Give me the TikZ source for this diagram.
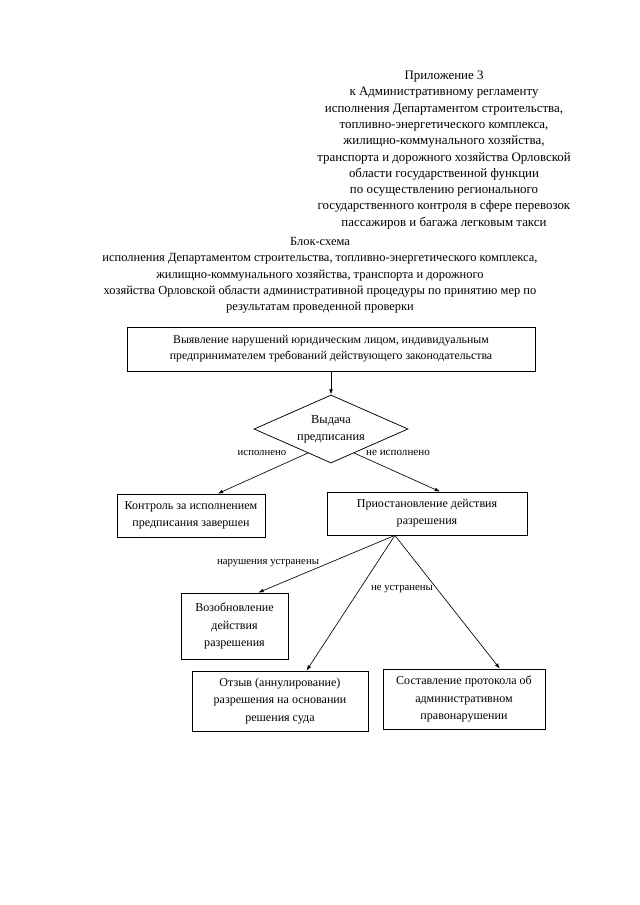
\documentclass[tikz,border=0pt]{standalone}
\usepackage{fontspec}
\setmainfont{Liberation Serif}
\usetikzlibrary{shapes.geometric,arrows.meta,calc}
\begin{document}
\begin{tikzpicture}[x=0.93pt,y=-0.93pt,
  txt/.style={font=\fontsize{12}{15.16}\selectfont, align=center, inner sep=0pt},
  box/.style={draw, line width=0.7pt, align=center, font=\fontsize{11.2}{16}\selectfont, inner sep=2pt},
  dia/.style={draw, line width=0.7pt, shape=diamond, aspect=2.26, inner sep=0pt,
    minimum width={154*0.93pt}, minimum height={68*0.93pt}, align=center, font=\fontsize{11.5}{16}\selectfont},
  lbl/.style={font=\fontsize{10}{12}\selectfont, inner sep=0pt},
  arr/.style={-{Latex[length=5pt,width=3.5pt]}, line width=0.6pt}]
\useasboundingbox (0,0) rectangle (640,905);
\fill[white] (0,0) rectangle (640,905);

\node[txt] (hdr) at (444,150) {Приложение 3\\к Административному регламенту\\исполнения Департаментом строительства,\\топливно-энергетического комплекса,\\жилищно-коммунального хозяйства,\\транспорта и дорожного хозяйства Орловской\\области государственной функции\\по осуществлению регионального\\государственного контроля в сфере перевозок\\пассажиров и багажа легковым такси};

\node[txt, font=\fontsize{11.6}{15.16}\selectfont] (ttl) at (320,275.5) {Блок-схема\\исполнения Департаментом строительства, топливно-энергетического комплекса,\\жилищно-коммунального хозяйства, транспорта и дорожного\\хозяйства Орловской области административной процедуры по принятию мер по\\результатам проведенной проверки};

\node[box, font=\fontsize{11}{14.5}\selectfont, minimum width={408*0.93pt}, minimum height={44*0.93pt}] (b1) at (331,349) {Выявление нарушений юридическим лицом, индивидуальным\\предпринимателем требований действующего законодательства};

\node[dia] (d) at (331,429) {Выдача\\предписания};

\node[box, minimum width={148*0.93pt}, minimum height={43*0.93pt}] (b2) at (191,515.5) {Контроль за исполнением\\предписания завершен};
\node[box, minimum width={200*0.93pt}, minimum height={43*0.93pt}] (b3) at (427,513.5) {Приостановление действия\\разрешения};
\node[box, minimum width={107*0.93pt}, minimum height={66*0.93pt}] (b4) at (234.5,626) {Возобновление\\действия\\разрешения};
\node[box, minimum width={176*0.93pt}, minimum height={60*0.93pt}] (b5) at (280,701) {Отзыв (аннулирование)\\разрешения на основании\\решения суда};
\node[box, minimum width={162*0.93pt}, minimum height={60*0.93pt}] (b6) at (464,699) {Составление протокола об\\административном\\правонарушении};

\draw[arr] (b1.south -| d.north) -- (d.north);
\draw[arr] ($(d.south)!0.3!(d.west)$) -- ($(b2.north west)!0.68!(b2.north east)$);
\draw[arr] ($(d.south)!0.3!(d.east)$) -- ($(b3.north west)!0.565!(b3.north east)$);
\node[lbl] (l1) at (262,453) {исполнено};
\node[lbl, font=\fontsize{10.3}{12}\selectfont] (l2) at (398,453) {не исполнено};

\coordinate (apex) at ($(b3.south west)!0.34!(b3.south east)$);
\draw[arr] (apex) -- ($(b4.north west)!0.72!(b4.north east)$);
\draw[arr] (apex) -- ($(b5.north west)!0.65!(b5.north east)$);
\draw[arr] (apex) -- ($(b6.north west)!0.72!(b6.north east)$);
\node[lbl] (l3) at (268,563) {нарушения устранены};
\node[lbl] (l4) at (402,589) {не устранены};
\end{tikzpicture}
\end{document}
